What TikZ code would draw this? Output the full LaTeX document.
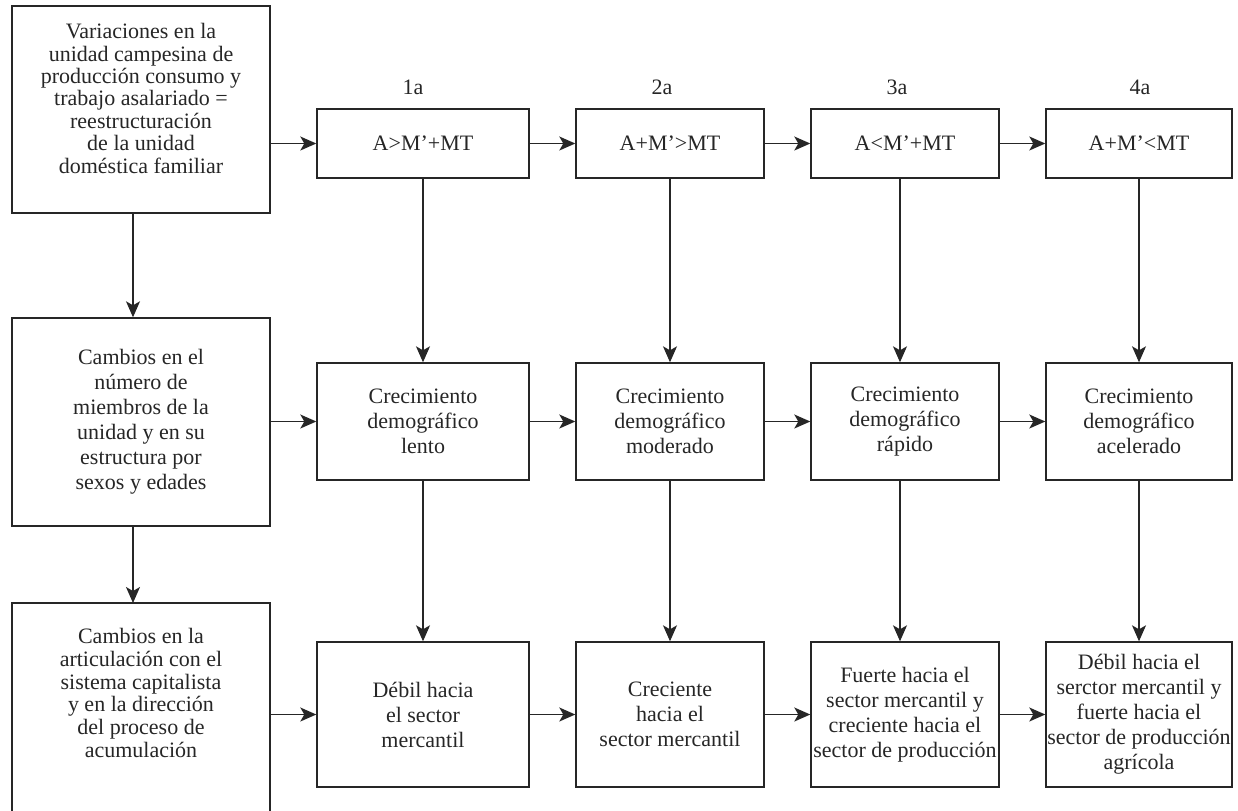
\documentclass[tikz,border=0pt]{standalone}
\usepackage{fontspec}
\setmainfont{Liberation Serif}
\usepackage{tikz}
\usetikzlibrary{positioning}
\usetikzlibrary{arrows.meta}
\tikzstyle{caja} = [draw=black!85, text=black!85, line width=0.7pt, align=center, inner xsep=0pt, inner ysep=0pt, font=\fontsize{11}{12.5}\selectfont]
\tikzstyle{etiqueta} = [text=black!85, font=\fontsize{11}{12.5}\selectfont]
\tikzstyle{flecha} = [-{Stealth[length=8pt, width=7pt, inset=2pt]}, draw=black!85, line width=0.7pt]

\begin{document}
\begin{tikzpicture}[x=0.5pt, y=-0.5pt]
	\useasboundingbox (0,0) rectangle (1238,810);
	% columna de la izquierda
	\node[caja, minimum width=129pt, minimum height=103.5pt, font=\fontsize{11}{11.2}\selectfont] (variaciones) at (141,109.5)
		{Variaciones en la\\unidad campesina de\\producción consumo y\\trabajo asalariado =\\reestructuración\\de la unidad\\doméstica familiar\\\mbox{}};
	\node[caja, minimum width=129pt, minimum height=104pt] (cambios) at (141,422)
		{Cambios en el\\número de\\miembros de la\\unidad y en su\\estructura por\\sexos y edades};
	\node[caja, draw=none, outer sep=0pt, minimum width=129pt, minimum height=90pt, font=\fontsize{11}{11.4}\selectfont] (articulacion) at (141,693)
		{Cambios en la\\articulación con el\\sistema capitalista\\y en la dirección\\del proceso de\\acumulación};
	\draw[draw=black!85, line width=0.7pt] ([yshift=-30pt]articulacion.south west) -- (articulacion.north west)
		-- (articulacion.north east) -- ([yshift=-30pt]articulacion.south east);

	% etapas
	\node[etiqueta] (et1) at (413,87) {1a};
	\node[etiqueta] (et2) at (662,87) {2a};
	\node[etiqueta] (et3) at (897,87) {3a};
	\node[etiqueta] (et4) at (1140,87) {4a};

	\node[caja, minimum width=106pt, minimum height=34.5pt] (rel1) at (423,143.5) {A>M’+MT};
	\node[caja, minimum width=94pt, minimum height=34.5pt] (rel2) at (670,143.5) {A+M’>MT};
	\node[caja, minimum width=94pt, minimum height=34.5pt] (rel3) at (905,143.5) {A<M’+MT};
	\node[caja, minimum width=93pt, minimum height=34.5pt] (rel4) at (1139,143.5) {A+M’<MT};

	\node[caja, minimum width=106pt, minimum height=58.5pt] (crec1) at (423,421.5) {Crecimiento\\demográfico\\lento};
	\node[caja, minimum width=94pt, minimum height=58.5pt] (crec2) at (670,421.5) {Crecimiento\\demográfico\\moderado};
	\node[caja, minimum width=94pt, minimum height=58.5pt] (crec3) at (905,421.5) {Crecimiento\\demográfico\\rápido};
	\node[caja, minimum width=93pt, minimum height=58.5pt] (crec4) at (1139,421.5) {Crecimiento\\demográfico\\acelerado};

	\node[caja, minimum width=106pt, minimum height=72.5pt] (sect1) at (423,714.5) {Débil hacia\\el sector\\mercantil};
	\node[caja, minimum width=94pt, minimum height=72.5pt] (sect2) at (670,714.5) {Creciente\\hacia el\\sector mercantil};
	\node[caja, minimum width=94pt, minimum height=72.5pt] (sect3) at (905,714.5) {Fuerte hacia el\\sector mercantil y\\creciente hacia el\\sector de producción};
	\node[caja, minimum width=93pt, minimum height=72.5pt] (sect4) at (1139,714.5) {Débil hacia el\\serctor mercantil y\\fuerte hacia el\\sector de producción\\agrícola};

	% conexiones
	\draw[flecha] ([xshift=-4pt]variaciones.south) -- ([xshift=-4pt]cambios.north);
	\draw[flecha] ([xshift=-4pt]cambios.south) -- ([xshift=-4pt]articulacion.north);
	\draw[flecha] (variaciones.east |- rel1.west) -- (rel1.west);
	\draw[flecha] (cambios.east |- crec1.west) -- (crec1.west);
	\draw[flecha] (articulacion.east |- sect1.west) -- (sect1.west);

	\draw[flecha] (rel1) -- (rel2);
	\draw[flecha] (rel2) -- (rel3);
	\draw[flecha] (rel3) -- (rel4);
	\draw[flecha] (crec1) -- (crec2);
	\draw[flecha] (crec2) -- (crec3);
	\draw[flecha] (crec3) -- (crec4);
	\draw[flecha] (sect1) -- (sect2);
	\draw[flecha] (sect2) -- (sect3);
	\draw[flecha] (sect3) -- (sect4);

	\draw[flecha] (rel1) -- (crec1);
	\draw[flecha] (rel2) -- (crec2);
	\draw[flecha] ([xshift=-2.5pt]rel3.south) -- ([xshift=-2.5pt]crec3.north);
	\draw[flecha] (rel4) -- (crec4);
	\draw[flecha] (crec1) -- (sect1);
	\draw[flecha] (crec2) -- (sect2);
	\draw[flecha] ([xshift=-2.5pt]crec3.south) -- ([xshift=-2.5pt]sect3.north);
	\draw[flecha] (crec4) -- (sect4);
\end{tikzpicture}
\end{document}
